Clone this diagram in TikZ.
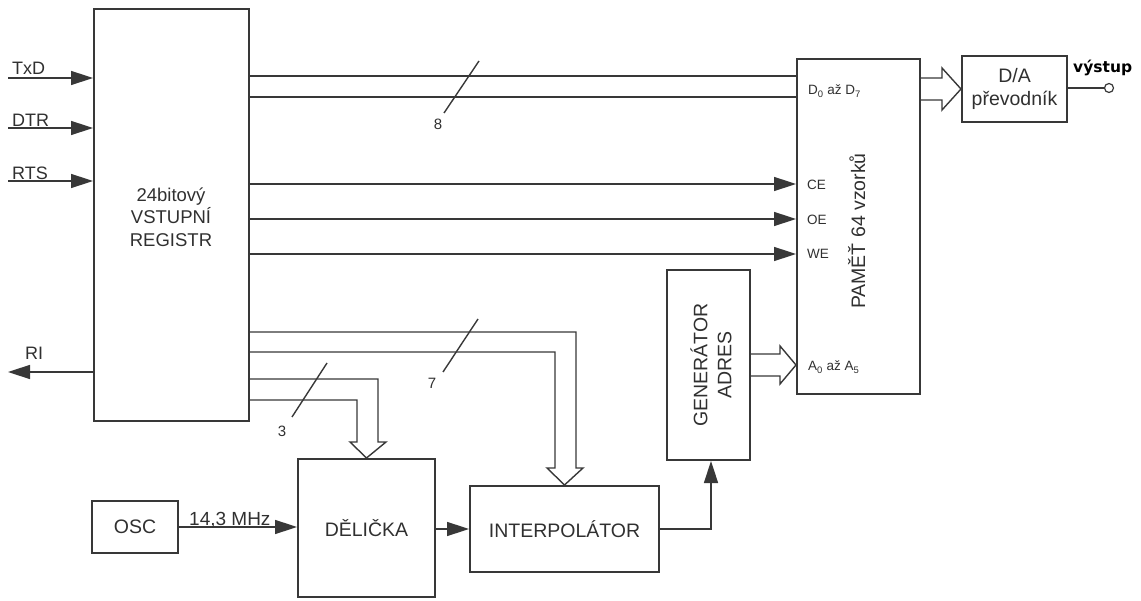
\documentclass[tikz,border=0pt]{standalone}
\usepackage{fontspec}
\setmainfont{Liberation Sans}
\newfontfamily\djv{DejaVu Sans}
\usetikzlibrary{arrows.meta,calc}
\definecolor{ink}{HTML}{383838}
\definecolor{txt}{HTML}{303030}
\begin{document}
\begin{tikzpicture}[x=1pt,y=-1pt,
  box/.style={draw=ink, line width=2pt, inner sep=0pt, text=txt},
  wire/.style={draw=ink, line width=1.5pt},
  sig/.style={wire, -{Triangle[length=22pt,width=14pt]}},
  bus/.style={draw=ink, line width=1.4pt, line join=miter},
  big/.style={font=\fontsize{19.5}{23}\selectfont, text=txt, align=center},
  lbl/.style={font=\fontsize{18}{20}\selectfont, text=txt, inner sep=0pt},
  pin/.style={font=\fontsize{13.5}{15}\selectfont, text=txt, inner sep=0pt},
  num/.style={font=\fontsize{15}{16}\selectfont, text=txt, inner sep=0pt},
  slash/.style={draw=ink, line width=1.4pt}
]
\useasboundingbox (0,0) rectangle (1141,601);
% blocks
\node[box, minimum width=155pt, minimum height=412pt] (reg) at (171.5,215) {};
\node[big, font=\fontsize{18.5}{22.5}\selectfont] (regtxt) at (171,217) {24bitový\\VSTUPNÍ\\REGISTR};
\node[box, minimum width=123pt, minimum height=335pt] (mem) at (858.5,226.5) {};
\node[big, rotate=90, anchor=base, inner sep=0pt] (memtxt) at (865,231) {PAMĚŤ 64 vzorků};
\node[box, big, minimum width=105pt, minimum height=66pt] (da) at (1014.5,89) {D/A\\převodník};
\node[box, minimum width=83pt, minimum height=190pt] (gen) at (708.5,365) {};
\node[big, rotate=90, font=\fontsize{19.5}{24}\selectfont] (gentxt) at (711,365) {GENERÁTOR\\ADRES};
\node[box, big, minimum width=137pt, minimum height=138pt] (del) at (366.5,528) {DĚLIČKA};
\node[box, big, minimum width=86pt, minimum height=52pt] (osc) at (135,527) {OSC};
\node[box, big, minimum width=189pt, minimum height=86pt] (int) at (564.5,529) {INTERPOLÁTOR};
\node[draw=ink, line width=1.2pt, circle, minimum size=9pt, inner sep=0pt] (out) at (1109,88) {};
% output
\draw[wire] (da.east |- out) -- (out.west);
\node[font=\djv\bfseries\fontsize{15.5}{17}\selectfont, anchor=base west, inner sep=0pt, text=black] (vys) at (1073,73) {výstup};
% inputs
\coordinate (txd) at (8,78);
\coordinate (dtr) at (8,128);
\coordinate (rts) at (8,181);
\coordinate (ri) at (8,372);
\draw[sig] (txd) -- (reg.west |- txd);
\draw[sig] (dtr) -- (reg.west |- dtr);
\draw[sig] (rts) -- (reg.west |- rts);
\draw[sig] (reg.west |- ri) -- (ri);
\node[lbl, anchor=base west] (ltxd) at (12,75) {TxD};
\node[lbl, anchor=base west] (ldtr) at (12,127) {DTR};
\node[lbl, anchor=base west] (lrts) at (12,180) {RTS};
\node[lbl, anchor=base west] (lri) at (25,360) {RI};
% data bus 8
\draw[wire] (reg.east |- 0,76) -- (mem.west |- 0,76);
\draw[wire] (reg.east |- 0,97) -- (mem.west |- 0,97);
\draw[slash] (479,61) -- (444,113);
\node[num, anchor=base] (n8) at (438,130) {8};
% control signals
\draw[sig] (reg.east |- 0,184) -- (mem.west |- 0,184);
\draw[sig] (reg.east |- 0,219) -- (mem.west |- 0,219);
\draw[sig] (reg.east |- 0,254) -- (mem.west |- 0,254);
\node[pin, anchor=base west] (ce) at (807,190) {CE};
\node[pin, anchor=base west] (oe) at (807,225) {OE};
\node[pin, anchor=base west] (we) at (807,259) {WE};
\node[pin, anchor=base west] (dd) at (808,95) {D\textsubscript{0} až D\textsubscript{7}};
\node[pin, anchor=base west] (aa) at (808,371) {A\textsubscript{0} až A\textsubscript{5}};
% hollow bus mem -> D/A
\draw[bus] (mem.east |- 0,78) -- (942,78) -- (942,68) -- (da.west |- 0,89) -- (942,110) -- (942,100) -- (mem.east |- 0,100);
% hollow bus gen -> mem
\draw[bus] (gen.east |- 0,354) -- (780,354) -- (780,346) -- (mem.west |- 0,365) -- (780,384) -- (780,376) -- (gen.east |- 0,376);
% bus 7 reg -> interpolator
\draw[bus] (reg.east |- 0,332) -- (576,332) -- (576,468) -- (583,468) -- (int.north) -- (547,468) -- (555,468) -- (555,352) -- (reg.east |- 0,352);
\draw[slash] (478,319) -- (443,372);
\node[num, anchor=base] (n7) at (432,389) {7};
% bus 3 reg -> delicka
\draw[bus] (reg.east |- 0,379) -- (378,379) -- (378,442) -- (386,442) -- (del.north) -- (350,442) -- (357,442) -- (357,400) -- (reg.east |- 0,400);
\draw[slash] (327,363) -- (292,417);
\node[num, anchor=base] (n3) at (282,437) {3};
% clock chain
\draw[sig] (osc.east) -- (del.west |- osc.east);
\node[lbl, font=\fontsize{19}{20}\selectfont, anchor=base west] (mhz) at (189,525) {14,3 MHz};
\draw[sig] (del.east |- int.west) -- (int.west);
\draw[sig] (int.east) -| (gen.south -| 711,0);
\end{tikzpicture}
\end{document}
